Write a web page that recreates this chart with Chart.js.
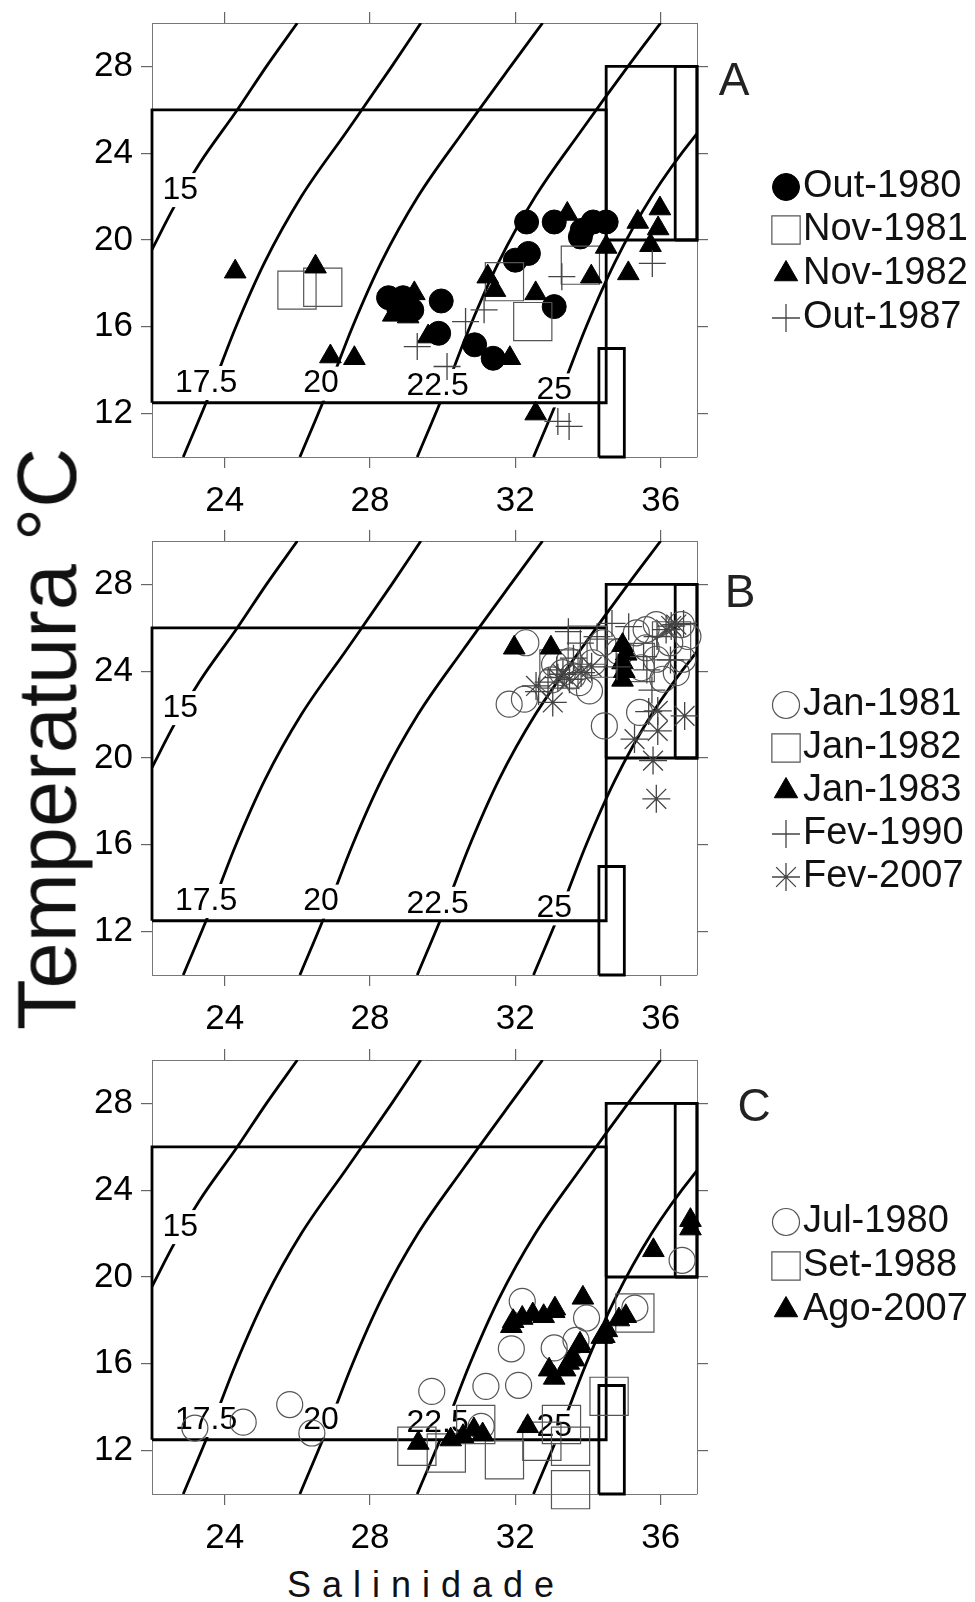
<!DOCTYPE html>
<html>
<head>
<meta charset="utf-8">
<script src="https://cdn.jsdelivr.net/npm/chart.js@4.4.1/dist/chart.umd.min.js"></script>
<style>
html, body { margin: 0; padding: 0; background: #fff; }
#wrap { position: relative; width: 975px; height: 1602px; overflow: hidden; }
canvas { position: absolute; left: 0; }
.ytitle { position: absolute; left: 47px; top: 739px; transform: translate(-50%, -50%) rotate(-90deg);
  font: 83px/83px "Liberation Sans", Arial, sans-serif; white-space: nowrap; color: #111; }
.xtitle { position: absolute; left: 287px; top: 1567px; font: 36px/36px "Liberation Sans", Arial, sans-serif;
  letter-spacing: 11px; white-space: nowrap; color: #111; }
</style>
</head>
<body>
<div id="wrap">
  <canvas id="pa" width="975" height="518" style="top:0px"></canvas>
  <canvas id="pb" width="975" height="518" style="top:518px"></canvas>
  <canvas id="pc" width="975" height="518" style="top:1037px"></canvas>
  <div class="ytitle">Temperatura °C</div>
  <div class="xtitle">Salinidade</div>
</div>
<script>
// eixos
const xTicks = [24, 28, 32, 36];
const yTicks = [12, 16, 20, 24, 28];
const xRange = [22, 37];
const yRange = [10, 30];

// isopicnas (sigma-t)
const isoLevels = ['15', '17.5', '20', '22.5', '25'];
const iso15 = [[22.0, 19.56], [22.6, 21.5], [23.3, 23.5], [24.35, 26], [25.15, 28], [26.0, 30]];
const iso175 = [[22.86, 10], [23.61, 13], [24.31, 16], [25.11, 19], [26.11, 22], [27.36, 25], [28.6, 28], [29.4, 30]];
const iso20 = [[26.07, 10], [26.82, 13], [27.52, 16], [28.32, 19], [29.32, 22], [30.57, 25], [31.87, 28], [32.75, 30]];
const iso225 = [[29.3, 10], [30.05, 13], [30.75, 16], [31.55, 19], [32.55, 22], [33.8, 25], [35.1, 28], [36.0, 30]];
const iso25 = [[32.5, 10], [33.25, 13], [33.95, 16], [34.75, 19], [35.75, 22], [36.95, 24.8], [37.6, 26]];
const isoLabelAt = [[22.78, 22.3], [23.49, 13.41], [26.65, 13.38], [29.86, 13.28], [33.07, 13.07]];

// caixas das massas de agua [xmin, ymin, xmax, ymax]
const boxes = [[22, 12.5, 34.5, 26], [34.5, 20, 37, 28], [36.4, 20, 37, 28], [34.3, 10, 35, 15]];

// painel A
const seriesA = ['Out-1980', 'Nov-1981', 'Nov-1982', 'Out-1987'];
const a_out1980 = [[28.51, 17.34], [28.91, 17.34], [28.79, 16.85], [29.15, 16.77], [29.96, 17.19], [29.89, 15.70],
  [30.88, 15.17], [31.39, 14.55], [32.31, 20.83], [33.07, 20.83], [33.84, 20.45], [34.14, 20.83], [34.5, 20.83],
  [33.79, 20.14], [32.0, 19.07], [32.36, 19.38], [33.07, 16.93]];
const a_nov1981 = [[25.99, 17.69], [26.70, 17.82], [31.70, 18.08], [33.79, 18.84], [32.48, 16.24]];
const a_nov1982 = [[24.29, 18.54], [26.5, 18.77], [26.91, 14.63], [27.57, 14.55], [29.22, 17.54], [28.64, 16.55],
  [29.05, 16.47], [29.6, 15.55], [31.85, 14.55], [31.24, 18.31], [31.44, 17.69], [32.56, 17.54], [32.56, 12.0],
  [33.43, 21.2], [34.5, 19.68], [34.09, 18.31], [35.11, 18.46], [35.37, 20.83], [35.98, 21.45], [35.93, 20.53], [35.72, 19.76]];
const a_out1987 = [[29.30, 15.09], [30.12, 14.17], [30.63, 16.24], [31.14, 16.78], [33.28, 18.31], [35.77, 18.92],
  [33.17, 11.64], [33.48, 11.41]];

// painel B
const seriesB = ['Jan-1981', 'Jan-1982', 'Jan-1983', 'Fev-1990', 'Fev-2007'];
const b_jan1981 = [[31.83, 22.48], [32.25, 22.71], [32.29, 25.31], [33.08, 24.32], [33.49, 24.47], [33.58, 23.78],
  [34.04, 23.09], [34.45, 21.48], [35.42, 22.1], [35.6, 25.92], [35.88, 26.15], [36.25, 25.31], [36.57, 26.15],
  [36.61, 24.55], [36.43, 23.93], [35.88, 24.55], [35.6, 25.08], [35.47, 24.16], [34.41, 25.31], [34.13, 24.39],
  [33.76, 23.47], [33.3, 23.93], [36.06, 23.63], [35.33, 25.77], [36.75, 25.6], [34.85, 24.9], [33.0, 23.6]];
const b_jan1982 = [[33.98, 25.2], [36.3, 25.4], [35.3, 24.4], [34.5, 24.6], [33.2, 24.1]];
const b_jan1983 = [[31.97, 25.08], [32.98, 25.08], [34.95, 25.2], [35.05, 24.8], [34.95, 24.4], [35.0, 24.0], [34.95, 23.6]];
const b_fev1990 = [[32.64, 23.06], [33.46, 25.82], [33.79, 25.29], [34.66, 26.2], [35.12, 26.05], [35.53, 24.67],
  [35.62, 24.06], [35.76, 23.13], [35.67, 22.14], [36.63, 26.2], [36.27, 24.52], [33.14, 24.06], [34.25, 25.59],
  [34.8, 24.2], [33.6, 24.6], [35.9, 25.6], [32.9, 23.5]];
const b_fev2007 = [[32.57, 23.32], [33.03, 22.56], [33.31, 23.86], [33.49, 23.63], [33.81, 23.93], [35.28, 20.87],
  [35.92, 21.25], [35.92, 22.17], [35.79, 19.88], [35.88, 18.12], [36.66, 21.94], [36.29, 26.08], [36.43, 26.15],
  [36.15, 25.92], [33.17, 23.7], [34.1, 24.2]];

// painel C
const seriesC = ['Jul-1980', 'Set-1988', 'Ago-2007'];
const c_jul1980 = [[23.18, 13.04], [24.51, 13.31], [25.79, 14.12], [26.40, 12.81], [29.70, 14.73], [31.19, 14.96],
  [32.09, 15.01], [31.89, 16.69], [32.19, 18.88], [33.07, 16.73], [33.67, 17.08], [33.96, 18.11], [35.29, 18.57],
  [31.06, 13.12], [36.59, 20.77]];
const c_set1988 = [[29.29, 12.2], [30.10, 11.89], [30.91, 13.2], [31.70, 11.58], [32.73, 12.43], [33.27, 13.2],
  [33.52, 12.2], [33.52, 10.2], [34.58, 14.5], [35.29, 18.34]];
const c_ago2007 = [[29.33, 12.35], [30.22, 12.51], [30.56, 12.66], [30.86, 12.97], [31.1, 12.74], [32.34, 13.12],
  [31.94, 17.96], [32.19, 18.11], [32.48, 18.27], [32.78, 18.19], [33.07, 18.42], [31.89, 17.73], [33.86, 19.04],
  [33.76, 16.81], [33.62, 16.19], [33.37, 15.73], [33.07, 15.35], [32.93, 15.73], [33.47, 16.04], [34.45, 17.27],
  [34.85, 18.04], [35.04, 18.19], [36.82, 22.62], [36.82, 22.23], [35.8, 21.23], [34.52, 17.54], [34.38, 17.23],
  [33.78, 16.92], [33.09, 18.54]];

const FONT = '"Liberation Sans", Arial, Helvetica, sans-serif';
Chart.defaults.font.family = FONT;

const marcadores = {
  dot:    { pointStyle: 'circle', radius: 12, bg: '#000', border: '#000', bw: 1, legendR: 13.5 },
  ring:   { pointStyle: 'circle', radius: 13, bg: 'rgba(0,0,0,0)', border: '#555', bw: 1.2, legendR: 13.5 },
  square: { pointStyle: 'rect', radius: 27, bg: 'rgba(0,0,0,0)', border: '#555', bw: 1.2, legendR: 20 },
  tri:    { pointStyle: 'triangle', radius: 12.5, bg: '#000', border: '#000', bw: 1, legendR: 13.5 },
  plus:   { pointStyle: 'cross', radius: 13.5, bg: 'rgba(0,0,0,0)', border: '#444', bw: 1.3, legendR: 14 },
  star:   { pointStyle: 'star', radius: 14, bg: 'rgba(0,0,0,0)', border: '#444', bw: 1.3, legendR: 14 }
};

const isoPlugin = {
  id: 'isoLabels',
  afterDatasetDraw(chart, args) {
    const ds = chart.data.datasets[args.index];
    if (!ds.isoLabel) return;
    const ctx = chart.ctx;
    const px = chart.scales.x.getPixelForValue(ds.isoLabel[0]);
    const py = chart.scales.y.getPixelForValue(ds.isoLabel[1]);
    ctx.save();
    ctx.font = '32px ' + FONT;
    ctx.textAlign = 'center';
    ctx.textBaseline = 'middle';
    const w = ctx.measureText(ds.isoText).width;
    ctx.fillStyle = '#fff';
    ctx.fillRect(px - w / 2 - 3, py - 17, w + 6, 34);
    ctx.fillStyle = '#000';
    ctx.fillText(ds.isoText, px, py);
    ctx.restore();
  }
};

const legendaPlugin = {
  id: 'legendaLado',
  afterDraw(chart, args, opts) {
    const ctx = chart.ctx;
    ctx.save();
    opts.items.forEach((it, i) => {
      const y = opts.rows[i];
      const m = marcadores[it.kind];
      ctx.fillStyle = m.bg;
      ctx.strokeStyle = m.border;
      ctx.lineWidth = m.bw;
      Chart.helpers.drawPoint(ctx, { pointStyle: m.pointStyle, radius: m.legendR, borderWidth: m.bw, rotation: 0 }, 786, y);
      ctx.font = '38px ' + FONT;
      ctx.fillStyle = '#111';
      ctx.textAlign = 'left';
      ctx.textBaseline = 'middle';
      ctx.fillText(it.label, 803, y);
    });
    ctx.font = '46px ' + FONT;
    ctx.fillStyle = '#222';
    ctx.textAlign = 'center';
    ctx.textBaseline = 'middle';
    ctx.fillText(opts.letter, opts.letterAt[0], opts.letterAt[1]);
    ctx.restore();
  }
};

function eixo(pos, vals, range, labels) {
  const horiz = pos === 'bottom' || pos === 'top';
  return {
    type: 'linear',
    position: pos,
    min: range[0],
    max: range[1],
    grid: { display: true, drawOnChartArea: false, drawTicks: true, tickLength: 11, color: '#666', lineWidth: 1.2 },
    border: { display: true, color: '#777', width: 1 },
    ticks: { display: labels, color: '#000', font: { size: 35 }, padding: horiz ? 12 : 8 },
    afterBuildTicks: s => { s.ticks = vals.map(v => ({ value: v })); },
    afterFit: s => {
      if (horiz) s.height = labels ? 61 : 11;
      else s.width = labels ? 152 : 11;
      s.paddingTop = 0;
      s.paddingBottom = 0;
      s.paddingLeft = 0;
      s.paddingRight = 0;
    }
  };
}

function montarPainel(id, nomes, dados, tipos, rows, letter, letterAt) {
  const datasets = [];
  [iso15, iso175, iso20, iso225, iso25].forEach((pts, i) => {
    datasets.push({
      data: pts, showLine: true, borderColor: '#000', borderWidth: 2.8, pointRadius: 0, pointHoverRadius: 0,
      cubicInterpolationMode: 'monotone', fill: false, clip: 0, order: 50,
      isoLabel: isoLabelAt[i], isoText: isoLevels[i]
    });
  });
  boxes.forEach(b => {
    datasets.push({
      data: [[b[0], b[1]], [b[2], b[1]], [b[2], b[3]], [b[0], b[3]], [b[0], b[1]]],
      showLine: true, borderColor: '#000', borderWidth: 2.8, pointRadius: 0, pointHoverRadius: 0,
      tension: 0, fill: false, clip: 2, order: 40, borderJoinStyle: 'miter'
    });
  });
  dados.forEach((pts, i) => {
    const m = marcadores[tipos[i]];
    datasets.push({
      label: nomes[i], data: pts, showLine: false,
      pointStyle: m.pointStyle, pointRadius: m.radius, pointHoverRadius: m.radius,
      pointBackgroundColor: m.bg, pointBorderColor: m.border, pointBorderWidth: m.bw,
      clip: false, order: 20 - i
    });
  });
  new Chart(document.getElementById(id), {
    type: 'scatter',
    data: { datasets },
    plugins: [isoPlugin, legendaPlugin],
    options: {
      responsive: false,
      animation: false,
      devicePixelRatio: 1,
      events: [],
      layout: { autoPadding: false, padding: { left: 0, top: 12, right: 267, bottom: 0 } },
      plugins: {
        legend: { display: false },
        tooltip: { enabled: false },
        legendaLado: {
          items: nomes.map((n, i) => ({ label: n, kind: tipos[i] })),
          rows, letter, letterAt
        }
      },
      scales: {
        x: eixo('bottom', xTicks, xRange, true),
        y: eixo('left', yTicks, yRange, true),
        x2: eixo('top', xTicks, xRange, false),
        y2: eixo('right', yTicks, yRange, false)
      }
    }
  });
}

montarPainel('pa', seriesA, [a_out1980, a_nov1981, a_nov1982, a_out1987], ['dot', 'square', 'tri', 'plus'],
  [187, 230, 274, 318], 'A', [734, 82]);
montarPainel('pb', seriesB, [b_jan1981, b_jan1982, b_jan1983, b_fev1990, b_fev2007], ['ring', 'square', 'tri', 'plus', 'star'],
  [187, 230, 273, 316, 359], 'B', [740, 76]);
montarPainel('pc', seriesC, [c_jul1980, c_set1988, c_ago2007], ['ring', 'square', 'tri'],
  [185, 229, 273], 'C', [754, 71]);
</script>
</body>
</html>
